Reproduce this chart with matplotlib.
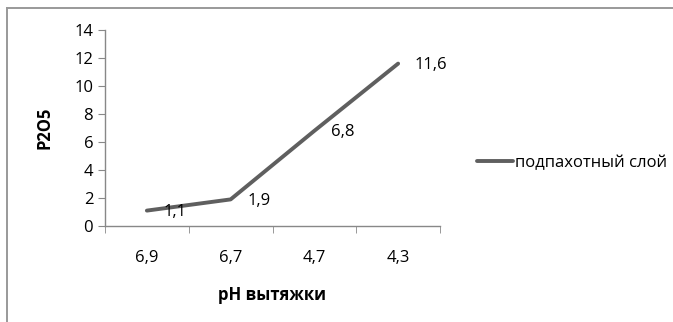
import matplotlib.pyplot as plt
from matplotlib.lines import Line2D

# данные
ph_labels = ['6,9', '6,7', '4,7', '4,3']
p2o5 = [1.1, 1.9, 6.8, 11.6]
value_labels = ['1,1', '1,9', '6,8', '11,6']

plt.rcParams['font.family'] = ['Open Sans', 'DejaVu Sans']
fs = 12

W, H = 673, 322
fig = plt.figure(figsize=(W / 100, H / 100), dpi=100)
ax = fig.add_axes([105 / W, 1 - 226 / H, 335 / W, 196 / H])

x = list(range(len(ph_labels)))
ax.plot(x, p2o5, color='#5f5f5f', linewidth=2.8, solid_capstyle='round',
        label='подпахотный слой')

# подписи значений
for xi, yi, t in zip(x, p2o5, value_labels):
    ax.annotate(t, (xi, yi), xytext=(12, -1), textcoords='offset points',
                ha='left', va='center', fontsize=fs)

ax.set_xlim(-0.5, 3.5)
ax.set_ylim(0, 14)
ax.set_yticks(range(0, 15, 2))
ax.set_xticks(x)
ax.set_xticklabels(ph_labels)
ax.set_xticks([-0.5, 0.5, 1.5, 2.5, 3.5], minor=True)
ax.tick_params(axis='x', which='major', length=0, pad=17, labelsize=fs)
ax.tick_params(axis='x', which='minor', length=5, color='#888888', direction='out')
ax.tick_params(axis='y', length=5, color='#888888', direction='out', labelsize=fs)

for s in ['top', 'right']:
    ax.spines[s].set_visible(False)
for s in ['left', 'bottom']:
    ax.spines[s].set_color('#888888')
    ax.spines[s].set_linewidth(1.0)

ax.set_xlabel('pH вытяжки', fontweight='bold', fontsize=fs, labelpad=15)
ax.set_ylabel('P2O5', fontweight='bold', fontsize=fs, labelpad=15)

fig.legend(loc='center left', bbox_to_anchor=(470 / W, 1 - 163 / H),
           frameon=False, fontsize=fs, handlelength=2.2, handletextpad=0.1,
           borderaxespad=0)

# рамка (верх и лево)
fig.add_artist(Line2D([7 / W, 1], [1 - 8 / H, 1 - 8 / H], color='#999999',
                      linewidth=1.4, transform=fig.transFigure))
fig.add_artist(Line2D([7 / W, 7 / W], [0, 1 - 8 / H], color='#999999',
                      linewidth=1.4, transform=fig.transFigure))

fig.savefig('out.png', dpi=100)
